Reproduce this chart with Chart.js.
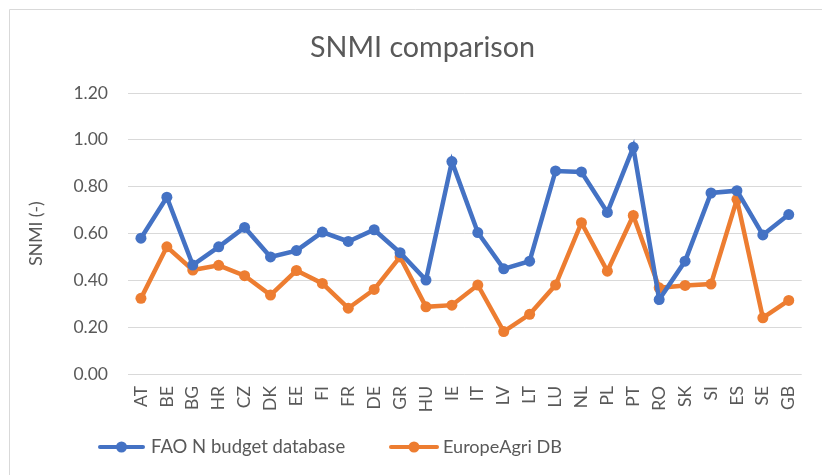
<!DOCTYPE html>
<html>
<head>
<meta charset="utf-8">
<script src="https://cdn.jsdelivr.net/npm/chart.js@4.4.1/dist/chart.umd.min.js"></script>
<style>
  html, body { margin: 0; padding: 0; background: #ffffff; }
  #wrap { width: 822px; height: 475px; position: relative; }
</style>
</head>
<body>
<div id="wrap"><canvas id="c" width="822" height="475"></canvas></div>
<script>
const categories = ["AT","BE","BG","HR","CZ","DK","EE","FI","FR","DE","GR","HU","IE","IT","LV","LT","LU","NL","PL","PT","RO","SK","SI","ES","SE","GB"];
const faoValues = [0.58,0.755,0.465,0.543,0.626,0.50,0.527,0.606,0.566,0.616,0.518,0.401,0.907,0.604,0.449,0.482,0.867,0.863,0.690,0.968,0.318,0.482,0.773,0.783,0.594,0.681];
const agriValues = [0.323,0.543,0.444,0.464,0.420,0.337,0.442,0.387,0.281,0.361,0.500,0.287,0.294,0.380,0.181,0.255,0.380,0.646,0.439,0.677,0.368,0.378,0.384,0.746,0.240,0.314];
const yTicks = [0, 0.2, 0.4, 0.6, 0.8, 1.0, 1.2];
const titleText = "SNMI comparison";
const yTitle = "SNMI (-)";
const seriesNames = ["FAO N budget database", "EuropeAgri DB"];
const colors = ["#4472C4", "#ED7D31"];

const FONT = "Lato, 'Open Sans', sans-serif";
const TXT = "#595959";

function fitFont(ctx, text, width) {
  ctx.font = "100px " + FONT;
  const w = ctx.measureText(text).width;
  return 100 * width / w;
}

const decor = {
  id: 'decor',
  afterDraw(chart) {
    const ctx = chart.ctx;
    ctx.save();
    ctx.strokeStyle = '#d9d9d9';
    ctx.lineWidth = 1;
    ctx.beginPath();
    ctx.moveTo(9.5, 475);
    ctx.lineTo(9.5, 9.5);
    ctx.lineTo(822, 9.5);
    ctx.stroke();
    // title
    const ts = Math.min(30, fitFont(ctx, titleText, 225));
    ctx.fillStyle = TXT;
    ctx.font = ts.toFixed(1) + "px " + FONT;
    ctx.textAlign = 'center';
    ctx.textBaseline = 'alphabetic';
    ctx.fillText(titleText, 422.5, 56.5);
    // legend
    const items = [
      {x0: 100, x1: 143, tx: 151, w: 194},
      {x0: 391, x1: 437, tx: 443, w: 119}
    ];
    const ly = 447;
    chart.data.datasets.forEach((ds, i) => {
      const it = items[i];
      ctx.strokeStyle = ds.borderColor;
      ctx.lineWidth = 4;
      ctx.lineCap = 'round';
      ctx.beginPath();
      ctx.moveTo(it.x0, ly);
      ctx.lineTo(it.x1, ly);
      ctx.stroke();
      ctx.fillStyle = ds.borderColor;
      ctx.beginPath();
      ctx.arc((it.x0 + it.x1) / 2, ly, 5.5, 0, Math.PI * 2);
      ctx.fill();
      const fs = Math.min(19, fitFont(ctx, ds.label, it.w));
      ctx.fillStyle = TXT;
      ctx.font = fs.toFixed(1) + "px " + FONT;
      ctx.textAlign = 'left';
      ctx.textBaseline = 'middle';
      ctx.fillText(ds.label, it.tx, ly);
    });
    ctx.restore();
  }
};

new Chart(document.getElementById('c'), {
  type: 'line',
  data: {
    labels: categories,
    datasets: [
      {label: seriesNames[0], data: faoValues, borderColor: colors[0], backgroundColor: colors[0],
       borderWidth: 4.5, pointRadius: 5.5, pointBorderWidth: 0, pointHoverRadius: 5.5, tension: 0},
      {label: seriesNames[1], data: agriValues, borderColor: colors[1], backgroundColor: colors[1],
       borderWidth: 4.5, pointRadius: 5.5, pointBorderWidth: 0, pointHoverRadius: 5.5, tension: 0}
    ]
  },
  options: {
    responsive: false,
    devicePixelRatio: 1,
    animation: false,
    layout: { padding: { left: 22, right: 13, top: 93, bottom: 0 } },
    plugins: { legend: { display: false }, title: { display: false }, tooltip: { enabled: false } },
    scales: {
      x: {
        type: 'category',
        offset: true,
        grid: { display: false, drawTicks: false },
        border: { display: false },
        ticks: { color: TXT, font: { family: FONT, size: 17.5 }, minRotation: 90, maxRotation: 90, padding: 12, autoSkip: false },
        afterFit(scale) { scale.height = 101; }
      },
      y: {
        min: 0, max: 1.2,
        afterBuildTicks(scale) { scale.ticks = yTicks.map(v => ({value: v})); },
        grid: { color: '#d9d9d9', lineWidth: 1, drawTicks: false },
        border: { display: false },
        ticks: { color: TXT, font: { family: FONT, size: 17.5 }, padding: 20, callback: v => Number(v).toFixed(2) },
        title: { display: true, text: yTitle, color: TXT, font: { family: FONT, size: 17.5 }, padding: { top: 4, bottom: 4 } },
        afterFit(scale) { scale.width = 106; }
      }
    }
  },
  plugins: [decor]
});
</script>
</body>
</html>
